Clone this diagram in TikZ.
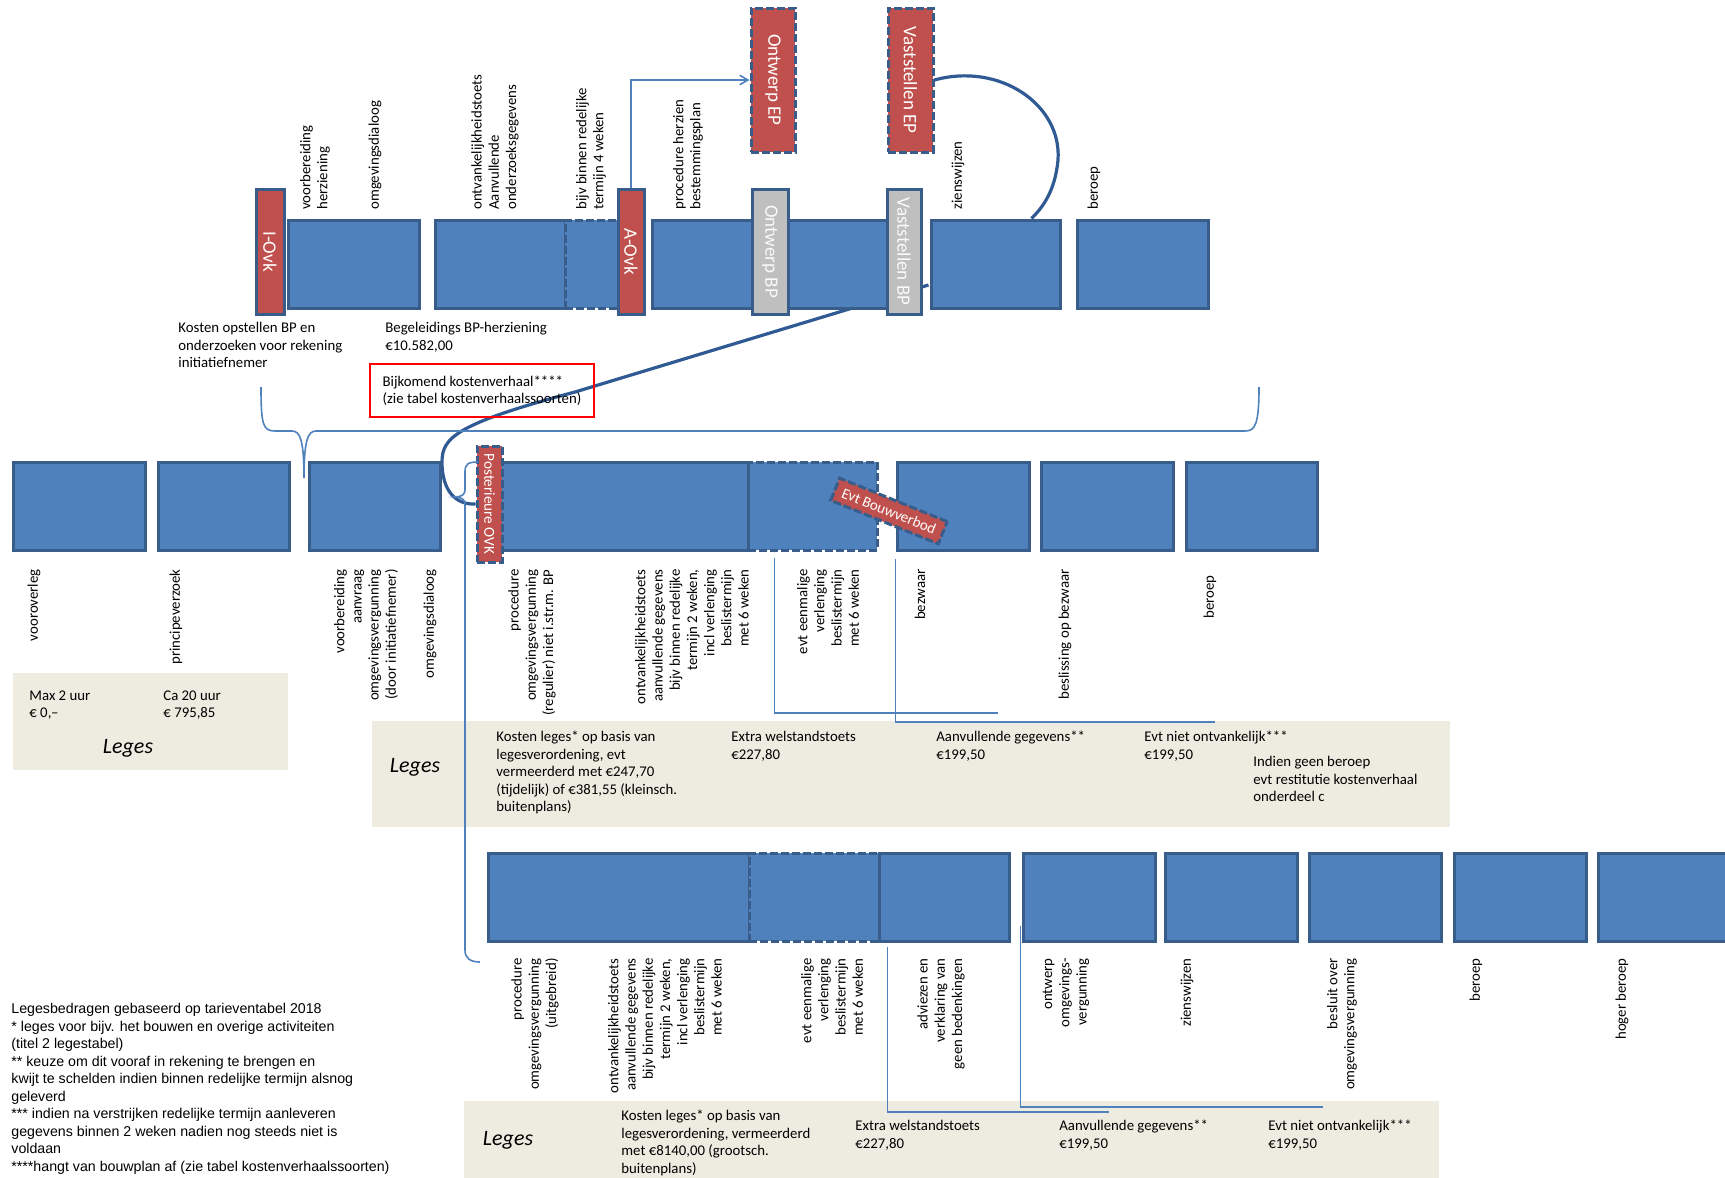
\documentclass[tikz,border=0pt]{standalone}
\usepackage{fontspec}
\setmainfont{Carlito}
\newfontfamily\notefont{Liberation Sans}
\usetikzlibrary{arrows,fit,backgrounds}
\definecolor{boxblue}{HTML}{4F81BD}
\definecolor{edgeblue}{HTML}{385D8A}
\definecolor{ovkred}{HTML}{C0504D}
\definecolor{bpgrey}{HTML}{BFBFBF}
\definecolor{legesbg}{HTML}{EEECE1}
\definecolor{curveblue}{HTML}{2F5A93}
\tikzstyle{bluebox}=[draw=edgeblue, line width=1.5pt, fill=boxblue, inner sep=0pt]
\tikzstyle{dashbox}=[bluebox, dash pattern=on 4pt off 1.5pt]
\tikzstyle{redbox}=[draw=edgeblue, line width=1.5pt, fill=ovkred, inner sep=0pt, text=white, font=\fontsize{9.5}{11}\selectfont]
\tikzstyle{reddash}=[redbox, dash pattern=on 4pt off 1.5pt]
\tikzstyle{greybox}=[redbox, fill=bpgrey, text=white!92!bpgrey]
\tikzstyle{legesbox}=[fill=legesbg, inner sep=0pt]
\tikzstyle{kvbox}=[draw=red, line width=1.4pt, minimum width=112pt, minimum height=26.5pt, align=left, inner sep=0pt, font=\fontsize{7.4}{8.7}\selectfont]
\tikzstyle{uplabel}=[rotate=90, anchor=west, align=left, inner sep=1pt, font=\fontsize{7.4}{8.6}\selectfont]
\tikzstyle{downlabel}=[uplabel, anchor=east, align=right]
\tikzstyle{txt}=[anchor=north west, align=left, inner sep=0pt, font=\fontsize{7.4}{8.7}\selectfont]
\tikzstyle{legestitle}=[font=\fontsize{11}{13}\selectfont\itshape]
\tikzstyle{thinline}=[draw=boxblue, line width=0.8pt]
\tikzstyle{thickline}=[draw=curveblue, line width=1.6pt]

\begin{document}
\begin{tikzpicture}[x=0.5pt, y=-0.5pt]
\useasboundingbox (0,0) rectangle (1725,1178);
\clip (0,0) rectangle (1725,1178);
% leges panels
\node[legesbox, fit={(13,673) (288,770)}] (lg1) {};
\node[legesbox, fit={(372,721) (1450,827)}] (lg2) {};
\node[legesbox, fit={(464,1101) (1439,1190)}] (lg3) {};

% middle row: omgevingsvergunning regulier
\node[dashbox, fit={(748,462) (877,550)}] (mdash) {};
\foreach \n/\xa/\xb in {m1/13/145, m2/158/289, m3/309/440, m4/480/748, m5/897/1029, m6/1041/1173, m7/1186/1317}
\node[bluebox, fit={(\xa,462) (\xb,550)}] (\n) {};
\node[reddash, font=\fontsize{7.6}{9}\selectfont, fit={(477,446) (502,562)}] (mpovk) {\rotatebox{-90}{Posterieure OVK}};
\node[reddash, font=\fontsize{7.5}{9}\selectfont, rotate=-22, minimum width=58pt, minimum height=12pt] (mbouw) at (889,511) {Evt Bouwverbod};

% top row: herziening bestemmingsplan
\foreach \n/\xa/\xb in {t1/288/419, t2/435/565, t3/652/900, t4/931/1060, t5/1077/1208}
\node[bluebox, fit={(\xa,220) (\xb,308)}] (\n) {};
\node[dashbox, fit={(565,220) (618,308)}] (tdash) {};
\node[redbox, fit={(256,189) (284,314)}] (tiovk) {\rotatebox{-90}{I-Ovk}};
\node[redbox, fit={(618,189) (644,314)}] (taovk) {\rotatebox{-90}{A-Ovk}};
\node[greybox, fit={(752,189) (788,314)}] (tobp) {\rotatebox{-90}{Ontwerp BP}};
\node[greybox, fit={(887,189) (921,314)}] (tvbp) {\rotatebox{-90}{Vaststellen BP}};
\node[reddash, fit={(751,8) (795,152)}] (toep) {\rotatebox{-90}{Ontwerp EP}};
\node[reddash, fit={(888,8) (933,152)}] (tvep) {\rotatebox{-90}{Vaststellen EP}};

% bottom row: omgevingsvergunning uitgebreid
\node[bluebox, fit={(488,853) (749,941)}] (b1) {};
\node[dashbox, fit={(749,853) (879,941)}] (bdash) {};
\foreach \n/\xa/\xb in {b1b/879/1009, b2/1023/1155, b3/1165/1297, b4/1309/1441, b5/1454/1586, b6/1598/1740}
\node[bluebox, fit={(\xa,853) (\xb,941)}] (\n) {};

% labels top row
\node[uplabel] (tl1) at (315,212) {voorbereiding\\herziening};
\node[uplabel] (tl2) at (375,212) {omgevingsdialoog};
\node[uplabel] (tl3) at (495,212) {ontvankelijkheidstoets\\Aanvullende\\onderzoeksgegevens};
\node[uplabel] (tl4) at (591,212) {bijv binnen redelijke\\termijn 4 weken};
\node[uplabel] (tl5) at (688,212) {procedure herzien\\bestemmingsplan};
\node[uplabel] (tl6) at (958,212) {zienswijzen};
\node[uplabel] (tl7) at (1094,212) {beroep};

% labels middle row
\node[downlabel] (ml1) at (34,567) {vooroverleg};
\node[downlabel] (ml2) at (176,567) {principeverzoek};
\node[downlabel] (ml3) at (366,567) {voorbereiding\\aanvraag\\omgevingsvergunning\\(door initiatiefnemer)};
\node[downlabel] (ml4) at (430,567) {omgevingsdialoog};
\node[downlabel] (ml5) at (532,567) {procedure\\omgevingsvergunning\\(regulier) niet i.str.m. BP};
\node[downlabel] (ml6) at (692,567) {ontvankelijkheidstoets\\aanvullende gegevens\\bijv binnen redelijke\\termijn 2 weken,\\incl verlenging\\beslistermijn\\met 6 weken};
\node[downlabel] (ml7) at (828,567) {evt eenmalige\\verlenging\\beslistermijn\\met 6 weken};
\node[downlabel] (ml8) at (920,567) {bezwaar};
\node[downlabel] (ml9) at (1065,567) {beslissing op bezwaar};
\node[downlabel] (ml10) at (1210,573) {beroep};

% labels bottom row
\node[downlabel] (bl1) at (535,956) {procedure\\omgevingsvergunning\\(uitgebreid)};
\node[downlabel] (bl2) at (665,956) {ontvankelijkheidstoets\\aanvullende gegevens\\bijv binnen redelijke\\termijn 2 weken,\\incl verlenging\\beslistermijn\\met 6 weken};
\node[downlabel] (bl3) at (832,956) {evt eenmalige\\verlenging\\beslistermijn\\met 6 weken};
\node[downlabel] (bl4) at (941,956) {adviezen en\\verklaring van\\geen bedenkingen};
\node[downlabel] (bl5) at (1066,956) {ontwerp\\omgevings-\\vergunning};
\node[downlabel] (bl6) at (1187,956) {zienswijzen};
\node[downlabel] (bl7) at (1342,956) {besluit over\\omgevingsvergunning};
\node[downlabel] (bl8) at (1476,956) {beroep};
\node[downlabel] (bl9) at (1622,956) {hoger beroep};

% costs
\node[txt] (kosten) at (178,322) {Kosten opstellen BP en\\onderzoeken voor rekening\\initiatiefnemer};
\node[txt] (begel) at (385,322) {Begeleidings BP-herziening\\€10.582,00};
\node[kvbox] (kv) at (482,390.5) {Bijkomend kostenverhaal****\\(zie tabel kostenverhaalssoorten)};
\node[txt] (max) at (29,690) {Max 2 uur\\€ 0,--};
\node[txt] (ca) at (163,690) {Ca 20 uur\\€ 795,85};
\node[legestitle] (lgt1) at (128,748) {Leges};
\node[legestitle] (lgt2) at (415,767) {Leges};
\node[txt] (mkost) at (496,731) {Kosten leges* op basis van\\legesverordening, evt\\vermeerderd met €247,70\\(tijdelijk) of €381,55 (kleinsch.\\buitenplans)};
\node[txt] (mwelst) at (731,731) {Extra welstandstoets\\€227,80};
\node[txt] (maanv) at (936,731) {Aanvullende gegevens**\\€199,50};
\node[txt] (mniet) at (1144,731) {Evt niet ontvankelijk***\\€199,50};
\node[txt] (mrest) at (1253,756) {Indien geen beroep\\evt restitutie kostenverhaal\\onderdeel c};
\node[legestitle] (lgt3) at (508,1140) {Leges};
\node[txt] (bkost) at (621,1110) {Kosten leges* op basis van\\legesverordening, vermeerderd\\met €8140,00 (grootsch.\\buitenplans)};
\node[txt] (bwelst) at (855,1120) {Extra welstandstoets\\€227,80};
\node[txt] (baanv) at (1059,1120) {Aanvullende gegevens**\\€199,50};
\node[txt] (bniet) at (1268,1120) {Evt niet ontvankelijk***\\€199,50};

% footnotes
\node[anchor=north west, align=left, inner sep=0pt, font=\notefont\fontsize{7.1}{8.75}\selectfont] (notes) at (11,1003) {Legesbedragen gebaseerd op tarieventabel 2018\\* leges voor bijv. het bouwen en overige activiteiten\\(titel 2 legestabel)\\** keuze om dit vooraf in rekening te brengen en\\kwijt te schelden indien binnen redelijke termijn alsnog\\geleverd\\*** indien na verstrijken redelijke termijn aanleveren\\gegevens binnen 2 weken nadien nog steeds niet is\\voldaan\\****hangt van bouwplan af (zie tabel kostenverhaalssoorten)};

% connectors
\begin{scope}[on background layer]
\draw[thickline] ([shift={(-1,21)}]t4.west) -- (575,392) .. controls (455,424) and (442,438) .. (442,462) .. controls (442,490) and (455,505) .. (mpovk.west);
\end{scope}
\draw[thickline] (tvep.east) .. controls (1000,62) and (1062,105) .. (1058,160) .. controls (1055,192) and (1042,208) .. ([xshift=18pt]t4.north);
\draw[thinline, -angle 60] (taovk.north) |- (toep.west);

\coordinate (mwelstend) at (998,713);
\coordinate (maanvend) at (1215,722);
\coordinate (bwelstend) at (1109,1112);
\coordinate (baanvend) at (1323,1107);
\draw[thinline] ([shift={(28,6)}]mdash.south west) |- (mwelstend);
\draw[thinline] ([shift={(0,7)}]m5.south west) |- (maanvend);
\draw[thinline] ([shift={(10,4)}]b1b.south west) |- (bwelstend);
\draw[thinline] ([shift={(-1,29)}]b2.west) |- (baanvend);

% braces
\draw[thinline] (261,387) .. controls (261,425) and (263,431) .. (275,431) -- (292,431) .. controls (300,431) and (304,440) .. (304,478) .. controls (304,440) and (308,431) .. (316,431) -- (1245,431) .. controls (1255,431) and (1259,425) .. (1259,387);
\draw[thinline] (478,462) .. controls (468,462) and (465,464) .. (465,472) -- (465,490) .. controls (465,494) and (462,497) .. (455,497) .. controls (462,497) and (465,500) .. (465,504) -- (465,950) .. controls (465,958) and (470,962) .. (480,962);
\end{tikzpicture}
\end{document}
